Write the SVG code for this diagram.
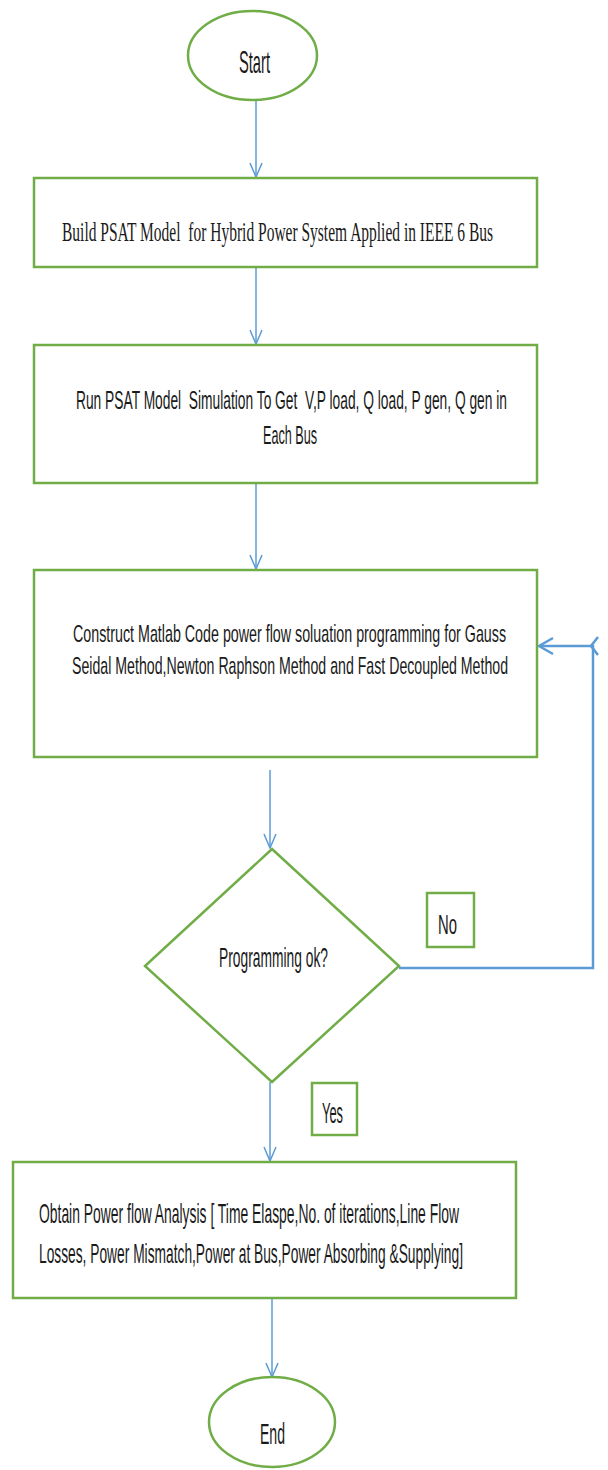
<svg xmlns="http://www.w3.org/2000/svg" width="608" height="1470" viewBox="0 0 608 1470">
<style>
.node{fill:#ffffff;stroke:#70AD47;stroke-width:2.5}
.t{font-family:"Liberation Sans",Arial,sans-serif;fill:#1a1a1a}
.s{font-family:"Liberation Serif","Times New Roman",serif;fill:#1a1a1a}
.c{fill:none;stroke:#5B9BD5;stroke-width:1.5}
.fb{fill:none;stroke:#5B9BD5;stroke-width:2.5}
</style>
<defs>
<marker id="arr" viewBox="0 0 16 14" refX="15" refY="7" markerWidth="16" markerHeight="14" markerUnits="userSpaceOnUse" orient="auto">
<path d="M1,1 L15,7 L1,13" fill="none" stroke="#5B9BD5" stroke-width="1.5"/>
</marker>
<marker id="arrb" viewBox="0 0 18 20" refX="16" refY="10" markerWidth="18" markerHeight="20" markerUnits="userSpaceOnUse" orient="auto">
<path d="M2,2 L16,10 L2,18" fill="none" stroke="#5B9BD5" stroke-width="2.5"/>
</marker>
</defs>
<rect width="608" height="1470" fill="#ffffff"/>
<g id="connectors">
<line class="c" x1="256" y1="100" x2="256" y2="177" marker-end="url(#arr)"/>
<line class="c" x1="256" y1="267" x2="256" y2="344" marker-end="url(#arr)"/>
<line class="c" x1="256" y1="484" x2="256" y2="569" marker-end="url(#arr)"/>
<line class="c" x1="270" y1="770" x2="270" y2="848" marker-end="url(#arr)"/>
<path class="fb" d="M399,968 L593,968 L593,646 L539,646" marker-end="url(#arrb)"/>
<path class="fb" d="M598,637 L591,646 L598,655" stroke-width="2"/>
<line class="c" x1="270" y1="1082" x2="270" y2="1161" marker-end="url(#arr)"/>
<line class="c" x1="272" y1="1298" x2="272" y2="1377" marker-end="url(#arr)"/>
</g>
<g id="start">
<ellipse class="node" cx="252.5" cy="55.5" rx="64.5" ry="44.5"/>
<text class="t" transform="scale(0.65,1)" x="367.7" y="73" font-size="31" textLength="47.7" lengthAdjust="spacingAndGlyphs">Start</text>
</g>
<g id="build">
<rect class="node" x="34" y="178" width="503" height="89"/>
<text class="s" xml:space="preserve" transform="scale(0.65,1)" x="95.4" y="241" font-size="27" textLength="663.1" lengthAdjust="spacingAndGlyphs">Build PSAT Model  for Hybrid Power System Applied in IEEE 6 Bus</text>
</g>
<g id="run">
<rect class="node" x="34" y="345" width="503" height="138"/>
<text class="t" xml:space="preserve" transform="scale(0.65,1)" x="116.9" y="409" font-size="26" textLength="663.1" lengthAdjust="spacingAndGlyphs">Run PSAT Model  Simulation To Get  V,P load, Q load, P gen, Q gen in</text>
<text class="t" transform="scale(0.65,1)" x="404.6" y="444" font-size="26" textLength="83.1" lengthAdjust="spacingAndGlyphs">Each Bus</text>
</g>
<g id="construct">
<rect class="node" x="34" y="570" width="503" height="187"/>
<text class="t" transform="scale(0.65,1)" x="112.3" y="642" font-size="24" textLength="666.2" lengthAdjust="spacingAndGlyphs">Construct Matlab Code power flow soluation programming for Gauss</text>
<text class="t" transform="scale(0.65,1)" x="110.8" y="674" font-size="24" textLength="670.8" lengthAdjust="spacingAndGlyphs">Seidal Method,Newton Raphson Method and Fast Decoupled Method</text>
</g>
<g id="decision">
<polygon class="node" points="272,849 399,966 272,1082 145,966"/>
<text class="t" transform="scale(0.65,1)" x="336.9" y="967" font-size="27" textLength="167.7" lengthAdjust="spacingAndGlyphs">Programming ok?</text>
</g>
<g id="no">
<rect class="node" x="427" y="893" width="47" height="54"/>
<text class="t" transform="scale(0.65,1)" x="673.8" y="934" font-size="28" textLength="29.2" lengthAdjust="spacingAndGlyphs">No</text>
</g>
<g id="yes">
<rect class="node" x="312" y="1083" width="45" height="52"/>
<text class="t" transform="scale(0.65,1)" x="495.4" y="1123" font-size="29" textLength="32.3" lengthAdjust="spacingAndGlyphs">Yes</text>
</g>
<g id="obtain">
<rect class="node" x="13" y="1162" width="503" height="136"/>
<text class="t" transform="scale(0.65,1)" x="60" y="1223" font-size="27" textLength="646.2" lengthAdjust="spacingAndGlyphs">Obtain Power flow Analysis [ Time Elaspe,No. of iterations,Line Flow</text>
<text class="t" transform="scale(0.65,1)" x="60" y="1263" font-size="27" textLength="652.3" lengthAdjust="spacingAndGlyphs">Losses, Power Mismatch,Power at Bus,Power Absorbing &amp;Supplying]</text>
</g>
<g id="end">
<ellipse class="node" cx="272" cy="1422" rx="63" ry="45"/>
<text class="t" transform="scale(0.65,1)" x="400" y="1444" font-size="30" textLength="38.5" lengthAdjust="spacingAndGlyphs">End</text>
</g>
</svg>
